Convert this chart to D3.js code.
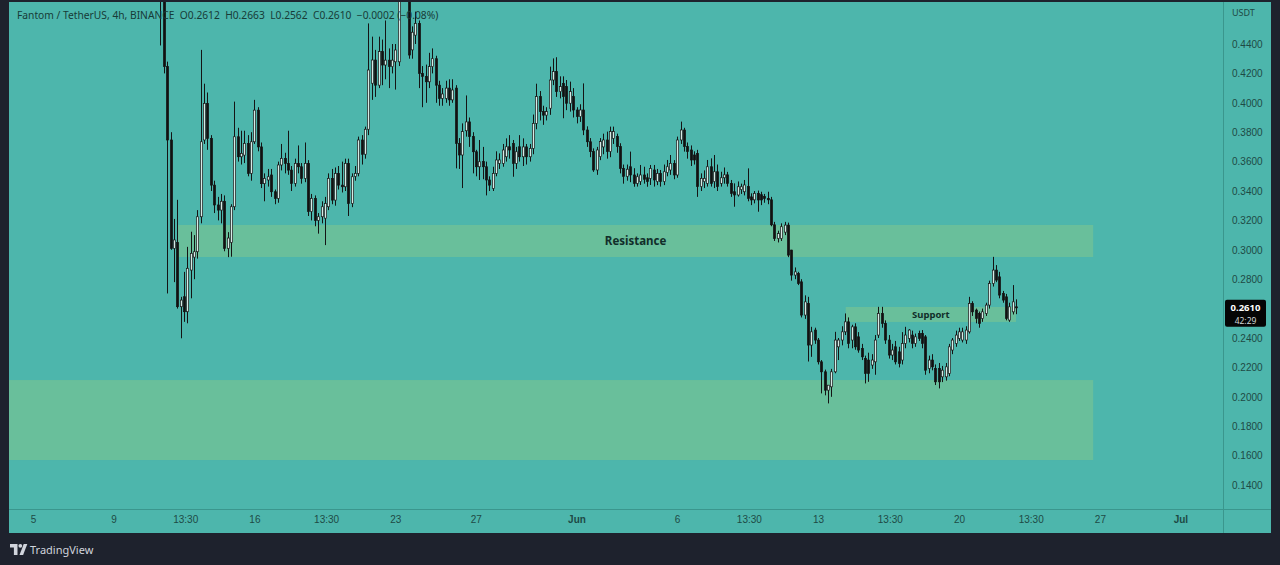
<!DOCTYPE html>
<html lang="en">
<head>
  <meta charset="UTF-8">
  <title>FTMUSDT 4h</title>
  <style>
    html, body { margin: 0; padding: 0; background: #1e222d; }
    svg { display: block; font-family: "Noto Sans", "Open Sans", sans-serif; }
    .axis text { fill: #1e4a45; font-size: 10px; }
    .axis path, .axis line { display: none; }
  </style>
</head>
<body>
<div id="chart"></div>
<script src="https://cdn.jsdelivr.net/npm/d3@7/dist/d3.min.js"></script>
<script>
// 4h candles, first bar 2022-05-11 08:00 UTC
const firstBar = "2022-05-11T08:00:00Z";
const barHours = 4;

const opens = [
  0.530,0.475,0.4246,0.3747,0.301,0.305,0.2613,0.2681,0.2579,0.2862,
  0.2950,0.2987,0.3225,0.3747,0.3996,0.3758,0.344,0.3305,0.327,0.333,
  0.301,0.305,0.3293,0.3769,0.3633,0.3644,0.3724,0.352,0.3735,0.395,
  0.370,0.345,0.3475,0.3509,0.3395,0.335,0.3577,0.3622,0.3588,0.3542,
  0.3452,0.3588,0.3565,0.3486,0.3588,0.326,0.335,0.320,0.3225,0.3215,
  0.3293,0.3486,0.3338,0.352,0.344,0.3429,0.3588,0.3315,0.350,0.352,
  0.3747,0.365,0.382,0.4133,0.4291,0.412,0.4348,0.4257,0.429,0.4246,
  0.4279,0.4279,0.478,0.488,0.476,0.436,0.446,0.454,0.420,0.418,
  0.4143,0.4246,0.430,0.412,0.403,0.403,0.410,0.402,0.410,0.3724,
  0.3645,0.381,0.387,0.377,0.3667,0.3565,0.360,0.3565,0.3475,0.3418,
  0.352,0.3588,0.3588,0.3633,0.3701,0.3724,0.3588,0.3701,0.3633,0.370,
  0.3633,0.369,0.386,0.4042,0.394,0.3916,0.3963,0.4155,0.4212,0.4076,
  0.4132,0.411,0.3997,0.4042,0.3951,0.3906,0.3951,0.3815,0.3735,0.3668,
  0.3543,0.3634,0.370,0.3747,0.3668,0.3758,0.377,0.3702,0.3554,0.350,
  0.3565,0.3509,0.3452,0.3464,0.3509,0.349,0.3486,0.3543,0.3464,0.352,
  0.3464,0.3525,0.3543,0.3588,0.3509,0.3747,0.3815,0.3702,0.3679,0.3645,
  0.3656,0.343,0.3464,0.3452,0.3565,0.3464,0.3531,0.3452,0.349,0.351,
  0.3452,0.3395,0.3373,0.341,0.3395,0.343,0.336,0.334,0.3384,0.3375,
  0.3362,0.335,0.3340,0.3170,0.3077,0.3077,0.3120,0.3168,0.2998,0.2828,
  0.2839,0.2782,0.2556,0.2635,0.2352,0.2454,0.2386,0.2238,0.2170,0.2045,
  0.2068,0.2170,0.2340,0.2386,0.2442,0.2510,0.2386,0.2476,0.2408,0.2329,
  0.2261,0.2250,0.2216,0.2238,0.2420,0.2567,0.2499,0.2386,0.2284,0.2340,
  0.2306,0.2250,0.2363,0.2397,0.2420,0.2363,0.2431,0.2431,0.2408,0.2193,
  0.2250,0.2193,0.2193,0.2136,0.2136,0.2159,0.2318,0.2363,0.2397,0.2386,
  0.2386,0.2442,0.2635,0.2590,0.2567,0.2533,0.2567,0.2624,0.2771,0.2862,
  0.2816,0.2703,0.2680,0.2522,0.2578,0.2612
];
const highs = [
  0.540,0.480,0.428,0.380,0.321,0.334,0.268,0.285,0.302,0.3123,
  0.310,0.327,0.436,0.413,0.407,0.378,0.347,0.336,0.338,0.337,
  0.312,0.331,0.4008,0.383,0.381,0.381,0.378,0.380,0.402,0.397,
  0.373,0.352,0.355,0.355,0.341,0.360,0.372,0.366,0.381,0.357,
  0.362,0.371,0.359,0.373,0.361,0.338,0.337,0.325,0.333,0.336,
  0.352,0.355,0.356,0.357,0.360,0.362,0.362,0.352,0.357,0.377,
  0.378,0.3838,0.454,0.445,0.436,0.445,0.443,0.456,0.437,0.440,
  0.440,0.490,0.495,0.492,0.480,0.452,0.462,0.456,0.425,0.426,
  0.434,0.437,0.432,0.415,0.410,0.415,0.416,0.416,0.412,0.376,
  0.386,0.405,0.390,0.380,0.368,0.3747,0.370,0.360,0.350,0.3565,
  0.367,0.3656,0.372,0.3758,0.378,0.3747,0.370,0.378,0.3758,0.372,
  0.372,0.392,0.413,0.408,0.398,0.397,0.4246,0.4302,0.431,0.418,
  0.418,0.4155,0.4144,0.410,0.397,0.399,0.4132,0.384,0.376,0.369,
  0.370,0.376,0.379,0.3804,0.3838,0.3838,0.379,0.3725,0.358,0.358,
  0.3668,0.3555,0.352,0.3577,0.3565,0.352,0.3577,0.3577,0.355,0.3543,
  0.358,0.3611,0.3645,0.361,0.377,0.3872,0.383,0.373,0.371,0.367,
  0.368,0.352,0.354,0.3611,0.3622,0.3645,0.358,0.3531,0.356,0.353,
  0.3475,0.3452,0.3465,0.345,0.3475,0.3554,0.3384,0.340,0.3403,0.3395,
  0.338,0.3395,0.3360,0.3190,0.3130,0.3180,0.3190,0.3185,0.3000,0.2880,
  0.2850,0.2800,0.2690,0.2680,0.2476,0.2470,0.2400,0.2250,0.2185,0.2080,
  0.2190,0.2442,0.2400,0.2480,0.2567,0.2540,0.2490,0.2500,0.2440,0.2360,
  0.2280,0.2300,0.2290,0.2420,0.2612,0.2612,0.2520,0.2420,0.2360,0.2380,
  0.2340,0.2440,0.2476,0.2460,0.2450,0.2430,0.2450,0.2454,0.2420,0.2280,
  0.2290,0.2220,0.2230,0.2210,0.2230,0.2360,0.2400,0.2450,0.2470,0.2470,
  0.2480,0.2680,0.2650,0.2600,0.2580,0.2600,0.2640,0.2790,0.2952,0.2896,
  0.2850,0.2720,0.2700,0.2640,0.2760,0.2663
];
const lows = [
  0.439,0.420,0.2703,0.300,0.278,0.260,0.2398,0.251,0.250,0.267,
  0.280,0.294,0.318,0.372,0.368,0.340,0.325,0.320,0.318,0.299,
  0.295,0.2953,0.327,0.360,0.358,0.359,0.350,0.347,0.372,0.367,
  0.342,0.333,0.343,0.336,0.331,0.332,0.354,0.352,0.351,0.340,
  0.343,0.352,0.345,0.346,0.323,0.320,0.316,0.311,0.318,0.3032,
  0.327,0.331,0.330,0.341,0.339,0.340,0.323,0.329,0.347,0.350,
  0.358,0.362,0.378,0.402,0.404,0.410,0.412,0.416,0.410,0.420,
  0.409,0.425,0.472,0.472,0.430,0.430,0.440,0.410,0.397,0.400,
  0.410,0.420,0.400,0.398,0.398,0.400,0.398,0.400,0.3554,0.355,
  0.342,0.377,0.370,0.352,0.350,0.3475,0.348,0.337,0.340,0.340,
  0.350,0.355,0.3565,0.360,0.362,0.3497,0.355,0.360,0.357,0.358,
  0.360,0.365,0.382,0.388,0.385,0.388,0.3918,0.412,0.404,0.403,
  0.3895,0.395,0.394,0.390,0.386,0.387,0.378,0.370,0.363,0.353,
  0.351,0.361,0.365,0.362,0.363,0.372,0.366,0.352,0.345,0.347,
  0.346,0.3429,0.343,0.3441,0.345,0.3429,0.3441,0.343,0.344,0.343,
  0.344,0.350,0.351,0.348,0.349,0.372,0.3668,0.362,0.357,0.358,
  0.336,0.340,0.342,0.343,0.343,0.342,0.340,0.343,0.345,0.343,
  0.336,0.3293,0.3362,0.338,0.337,0.333,0.3304,0.3316,0.3259,0.3304,
  0.332,0.331,0.3160,0.3060,0.3050,0.3060,0.3100,0.2950,0.2790,0.2800,
  0.2760,0.2540,0.2530,0.2240,0.2272,0.2360,0.2220,0.2023,0.2010,0.1955,
  0.2000,0.2160,0.2250,0.2350,0.2420,0.2330,0.2330,0.2320,0.2300,0.2250,
  0.2091,0.2102,0.2190,0.2150,0.2400,0.2470,0.2360,0.2260,0.2250,0.2220,
  0.2200,0.2220,0.2330,0.2370,0.2330,0.2340,0.2380,0.2330,0.2150,0.2160,
  0.2180,0.2080,0.2057,0.2100,0.2110,0.2140,0.2290,0.2340,0.2380,0.2370,
  0.2360,0.2430,0.2550,0.2500,0.2470,0.2510,0.2550,0.2600,0.2750,0.2780,
  0.2670,0.2640,0.2520,0.2510,0.2560,0.2562
];
const closes = [
  0.475,0.4246,0.3747,0.301,0.3067,0.2613,0.2658,0.2579,0.2874,0.2976,
  0.2987,0.3225,0.3735,0.3996,0.3758,0.344,0.3305,0.327,0.333,0.301,
  0.308,0.3293,0.3769,0.3633,0.3656,0.3724,0.352,0.3735,0.395,0.370,
  0.345,0.3486,0.3497,0.3395,0.335,0.3577,0.3622,0.3588,0.3542,0.3452,
  0.3588,0.3565,0.3486,0.3588,0.326,0.335,0.320,0.3225,0.3293,0.3315,
  0.3486,0.3338,0.352,0.344,0.3429,0.3588,0.3315,0.3497,0.352,0.3747,
  0.365,0.382,0.4223,0.4291,0.412,0.4348,0.4257,0.429,0.4246,0.429,
  0.4359,0.478,0.488,0.476,0.4325,0.448,0.454,0.420,0.418,0.4143,
  0.4246,0.430,0.412,0.403,0.406,0.410,0.402,0.4087,0.3724,0.3645,
  0.3804,0.387,0.377,0.3667,0.3565,0.3599,0.3565,0.3475,0.344,0.352,
  0.3611,0.3611,0.3679,0.3701,0.3679,0.3588,0.3667,0.3633,0.370,0.3633,
  0.369,0.386,0.4042,0.394,0.3916,0.394,0.4155,0.4212,0.4076,0.411,
  0.4042,0.3997,0.4076,0.3951,0.3906,0.3951,0.3815,0.3735,0.3668,0.3543,
  0.3679,0.3736,0.3747,0.3668,0.3804,0.3804,0.3702,0.3554,0.350,0.3548,
  0.3509,0.3452,0.3497,0.3509,0.348,0.3464,0.3554,0.3475,0.352,0.3464,
  0.3531,0.3565,0.3588,0.3509,0.3747,0.3815,0.3702,0.3668,0.3611,0.3611,
  0.343,0.3486,0.3486,0.3565,0.3452,0.3531,0.343,0.349,0.351,0.3452,
  0.3384,0.3373,0.3429,0.3429,0.3441,0.335,0.3339,0.3384,0.3339,0.3339,
  0.335,0.3340,0.3170,0.3077,0.3110,0.3157,0.3168,0.2964,0.2828,0.2850,
  0.2771,0.2556,0.2646,0.2352,0.2442,0.2386,0.2238,0.2170,0.2045,0.2079,
  0.2170,0.2386,0.2386,0.2442,0.2510,0.2363,0.2476,0.2340,0.2318,0.2272,
  0.2159,0.2159,0.2250,0.2386,0.2567,0.2499,0.2386,0.2284,0.2318,0.2238,
  0.2227,0.2363,0.2420,0.2454,0.2363,0.2408,0.2397,0.2363,0.2181,0.2250,
  0.2204,0.2102,0.2102,0.2181,0.2204,0.2340,0.2386,0.2420,0.2442,0.2442,
  0.2454,0.2635,0.2578,0.2533,0.2499,0.2578,0.2624,0.2771,0.2862,0.2794,
  0.2692,0.2658,0.2533,0.2612,0.2646,0.2610
];

const priceTicks = [0.14,0.16,0.18,0.20,0.22,0.24,0.26,0.28,0.30,0.32,0.34,0.36,0.38,0.40,0.42,0.44];
const timeTicks = ["2022-05-05T00:00:00Z","2022-05-09T00:00:00Z","2022-05-12T13:30:00Z","2022-05-16T00:00:00Z",
  "2022-05-19T13:30:00Z","2022-05-23T00:00:00Z","2022-05-27T00:00:00Z","2022-06-01T00:00:00Z",
  "2022-06-06T00:00:00Z","2022-06-09T13:30:00Z","2022-06-13T00:00:00Z","2022-06-16T13:30:00Z",
  "2022-06-20T00:00:00Z","2022-06-23T13:30:00Z","2022-06-27T00:00:00Z","2022-07-01T00:00:00Z"];
const timeLabels = ["5","9","13:30","16","13:30","23","27","Jun","6","13:30","13","13:30","20","13:30","27","Jul"];
const boldLabels = ["Jun","Jul"];

// drawn zones
const zoneNames = ["Resistance","Support",""];
const zoneFrom = ["2022-05-12T05:00:00Z","2022-06-14T09:00:00Z","2022-05-03T00:00:00Z"];
const zoneTo   = ["2022-06-26T16:00:00Z","2022-06-22T20:00:00Z","2022-06-26T16:00:00Z"];
const zoneLow  = [0.2951,0.2509,0.1570];
const zoneHigh = [0.3169,0.2611,0.2114];

const header = "Fantom / TetherUS, 4h, BINANCE  O0.2612  H0.2663  L0.2562  C0.2610  \u22120.0002 (\u22120.08%)";
const countdown = "42:29";

const W = 1280, H = 565;
const pane = {x0: 9, x1: 1271, y0: 2, y1: 533, axisX: 1223, axisY: 509};

const bars = opens.map((o, i) => ({
  t: new Date(Date.parse(firstBar) + i * barHours * 3600e3),
  o: o, h: highs[i], l: lows[i], c: closes[i]
}));
const last = bars[bars.length - 1];

const x = d3.scaleUtc()
  .domain([new Date("2022-05-05T00:00:00Z"), new Date("2022-07-01T00:00:00Z")])
  .range([33, 1180.4]);
const y = d3.scaleLinear().domain([0.14, 0.44]).range([485, 44]);

const svg = d3.select('#chart').append('svg')
  .attr('width', W).attr('height', H);

svg.append('rect').attr('width', W).attr('height', H).attr('fill', '#1e222d');
svg.append('rect')
  .attr('x', pane.x0).attr('y', pane.y0)
  .attr('width', pane.x1 - pane.x0).attr('height', pane.y1 - pane.y0)
  .attr('fill', '#4db6ac');

svg.append('clipPath').attr('id', 'plot')
  .append('rect')
  .attr('x', pane.x0).attr('y', pane.y0)
  .attr('width', pane.axisX - pane.x0).attr('height', pane.axisY - pane.y0);

const plot = svg.append('g').attr('clip-path', 'url(#plot)');

// zones
const zones = zoneNames.map((n, i) => ({
  name: n, from: new Date(zoneFrom[i]), to: new Date(zoneTo[i]), lo: zoneLow[i], hi: zoneHigh[i]
}));
plot.selectAll('.zone').data(zones).enter().append('rect')
  .attr('class', 'zone')
  .attr('x', d => x(d.from))
  .attr('y', d => y(d.hi))
  .attr('width', d => x(d.to) - x(d.from))
  .attr('height', d => y(d.lo) - y(d.hi))
  .attr('fill', '#69bf9b');

// candles
const bw = 2.2;
const gc = plot.append('g');
gc.selectAll('.wick').data(bars).enter().append('line')
  .attr('x1', d => Math.round(x(d.t)) + 0.5).attr('x2', d => Math.round(x(d.t)) + 0.5)
  .attr('y1', d => y(d.h)).attr('y2', d => y(d.l))
  .attr('stroke', '#141414').attr('stroke-width', 1);
gc.selectAll('.body').data(bars).enter().append('rect')
  .attr('x', d => Math.round(x(d.t)) + 0.5 - bw / 2)
  .attr('y', d => y(Math.max(d.o, d.c)))
  .attr('width', bw)
  .attr('height', d => Math.max(1, Math.abs(y(d.o) - y(d.c))))
  .attr('fill', d => d.c >= d.o ? '#d6ebe6' : '#111')
  .attr('stroke', '#161616')
  .attr('stroke-width', 0.7);

// zone labels
plot.selectAll('.zlabel').data(zones.filter(d => d.name)).enter().append('text')
  .attr('x', d => (x(d.from) + x(d.to)) / 2)
  .attr('y', d => (y(d.lo) + y(d.hi)) / 2)
  .attr('dy', '0.35em')
  .attr('text-anchor', 'middle')
  .attr('font-weight', 'bold')
  .attr('font-size', d => d.name === 'Resistance' ? 11.5 : 9.5)
  .attr('fill', '#112e2a')
  .text(d => d.name);

// dividers
svg.append('line').attr('x1', pane.axisX + 0.5).attr('x2', pane.axisX + 0.5)
  .attr('y1', pane.y0).attr('y2', pane.y1).attr('stroke', '#3a968d');
svg.append('line').attr('x1', pane.x0).attr('x2', pane.x1)
  .attr('y1', pane.axisY + 0.5).attr('y2', pane.axisY + 0.5).attr('stroke', '#3a968d');

// price axis (labels under the last-price tag are hidden, as on TradingView)
const ly = y(last.c);
svg.append('g').attr('class', 'axis')
  .attr('transform', `translate(${pane.axisX},0)`)
  .call(d3.axisRight(y)
    .tickValues(priceTicks.filter(v => Math.abs(y(v) - ly) > 14))
    .tickFormat(d3.format('.4f')).tickSize(0).tickPadding(9));
svg.append('text').attr('x', 1232).attr('y', 16)
  .attr('font-size', 9).attr('fill', '#1e4a45').text('USDT');

// time axis
const tAxis = svg.append('g').attr('class', 'axis')
  .attr('transform', `translate(0,${pane.axisY})`)
  .call(d3.axisBottom(x)
    .tickValues(timeTicks.map(s => new Date(s)))
    .tickFormat((d, i) => timeLabels[i])
    .tickSize(0).tickPadding(7));
tAxis.selectAll('text')
  .attr('font-weight', (d, i) => boldLabels.includes(timeLabels[i]) ? 'bold' : null)
  .attr('fill', (d, i) => boldLabels.includes(timeLabels[i]) ? '#0f2825' : null);

// last price tag
svg.append('rect').attr('x', 1225).attr('y', ly - 7.5).attr('width', 41).attr('height', 27)
  .attr('rx', 2).attr('fill', '#050505');
svg.append('text').attr('x', 1245.5).attr('y', ly + 3.5).attr('text-anchor', 'middle')
  .attr('font-size', 9.5).attr('font-weight', 'bold').attr('fill', '#fff')
  .text(d3.format('.4f')(last.c));
svg.append('text').attr('x', 1245.5).attr('y', ly + 16.5).attr('text-anchor', 'middle')
  .attr('font-size', 8.5).attr('fill', '#d0d6d5').text(countdown);

// header
svg.append('text').attr('x', 17).attr('y', 19)
  .attr('font-size', 10.25).attr('fill', '#173b37')
  .attr('xml:space', 'preserve').style('white-space', 'pre')
  .text(header);

// footer logo
const logo = svg.append('g').attr('fill', '#d1d4dc');
logo.append('path').attr('d', 'M10,544 h7.5 v11 h-3.6 v-7.4 h-3.9 z');
logo.append('circle').attr('cx', 20.3).attr('cy', 545.8).attr('r', 1.9);
logo.append('path').attr('d', 'M19.5,555 l4.2,-11 h3.6 l-4.2,11 z');
svg.append('text').attr('x', 30).attr('y', 553.5)
  .attr('font-size', 11).attr('fill', '#d1d4dc').text('TradingView');
</script>
</body>
</html>
